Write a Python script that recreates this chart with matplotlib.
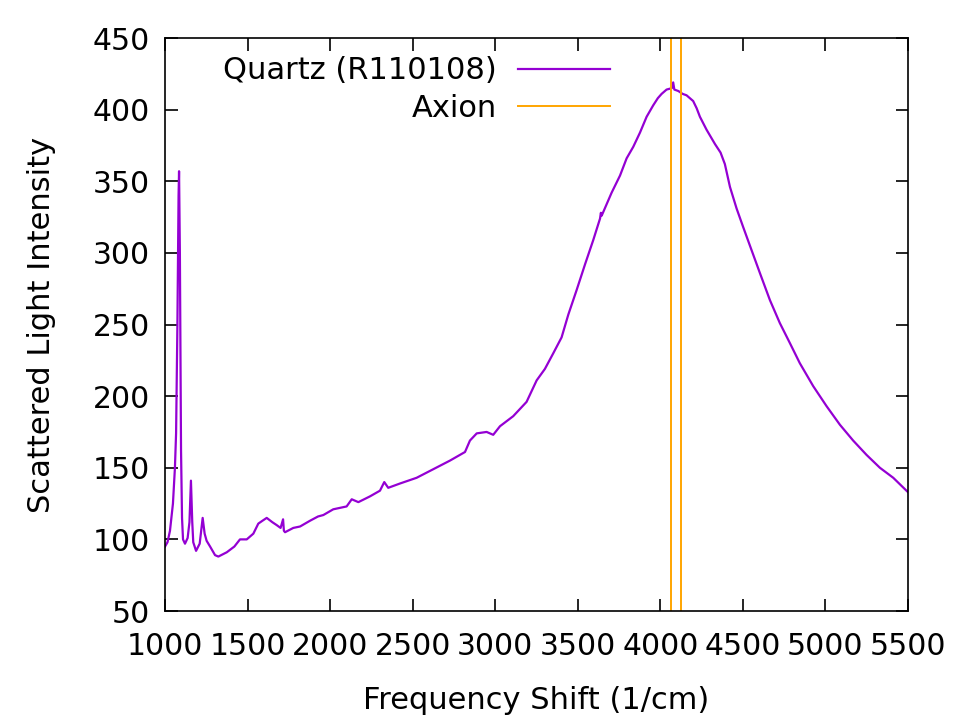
import matplotlib
matplotlib.use("Agg")
import matplotlib.pyplot as plt

# Spectrum (frequency shift in 1/cm, intensity)
shift = [1000, 1015, 1030, 1048, 1060, 1067, 1075, 1082, 1085, 1090, 1097, 1103,
         1109, 1121, 1137, 1148, 1157, 1165, 1171, 1188, 1210, 1228, 1240, 1252,
         1273, 1303, 1323, 1374, 1420, 1454, 1495, 1535, 1565, 1590, 1616, 1650,
         1676, 1700, 1715, 1720, 1727, 1777, 1818, 1878, 1927, 1959, 2019, 2100,
         2131, 2171, 2241, 2302, 2328, 2352, 2423, 2524, 2625, 2726, 2817, 2847,
         2888, 2948, 2988, 3029, 3109, 3190, 3251, 3301, 3352, 3402, 3443, 3493,
         3544, 3594, 3635, 3640, 3645, 3705, 3756, 3796, 3836, 3877, 3917, 3957,
         3985, 4008, 4038, 4070, 4078, 4085, 4109, 4135, 4159, 4199, 4220, 4240,
         4280, 4331, 4365, 4391, 4422, 4462, 4502, 4543, 4603, 4664, 4724, 4785,
         4845, 4926, 5007, 5088, 5168, 5249, 5330, 5411, 5500]
intensity = [95, 98, 106, 125, 150, 174, 250, 340, 357, 300, 162, 115,
             100, 97, 101, 112, 141, 112, 98, 92, 97, 115, 104, 99,
             95, 89, 88, 91, 95, 100, 100, 104, 111, 113, 115, 112,
             110, 108, 114, 106, 105, 108, 109, 113, 116, 117, 121, 123,
             128, 126, 130, 134, 140, 136, 139, 143, 149, 155, 161, 169,
             174, 175, 173, 179, 186, 196, 211, 219, 230, 241, 257, 274,
             292, 309, 324, 328, 326, 342, 354, 366, 374, 384, 395, 403,
             408, 411, 414, 415, 419, 414, 413, 411, 410, 406, 401, 395,
             386, 376, 370, 362, 346, 331, 318, 305, 286, 267, 251, 237,
             223, 207, 193, 180, 169, 159, 150, 143, 133]

axion_lines = [4065, 4125]

xticks = list(range(1000, 5501, 500))
yticks = list(range(50, 451, 50))

plt.rcParams["font.family"] = "DejaVu Sans"
plt.rcParams["font.size"] = 22

fig = plt.figure(figsize=(9.69, 7.28), dpi=100)
ax = fig.add_axes([0.1703, 0.1607, 0.7667, 0.7871])

ax.plot(shift, intensity, color="#9400d3", lw=1.6, label="Quartz (R110108)")
for i, xv in enumerate(axion_lines):
    ax.axvline(xv, color="#ffa500", lw=1.4, label="Axion" if i == 0 else None)

ax.set_xlim(1000, 5500)
ax.set_ylim(50, 450)
ax.set_xticks(xticks)
ax.set_yticks(yticks)
ax.tick_params(direction="in", length=9, width=1.2, top=True, right=True,
               labelsize=21.5)
ax.tick_params(axis="x", pad=15)
ax.tick_params(axis="y", pad=11)
for s in ax.spines.values():
    s.set_linewidth(1.2)

ax.set_xlabel("Frequency Shift (1/cm)", labelpad=18)
ax.set_ylabel("Scattered Light Intensity", labelpad=26)

ax.legend(loc="upper right", bbox_to_anchor=(0.599, 0.968), frameon=False,
          markerfirst=False, handlelength=3.0, handletextpad=0.7,
          labelspacing=0.27, borderpad=0, borderaxespad=0)

fig.savefig("out.png", dpi=100)
